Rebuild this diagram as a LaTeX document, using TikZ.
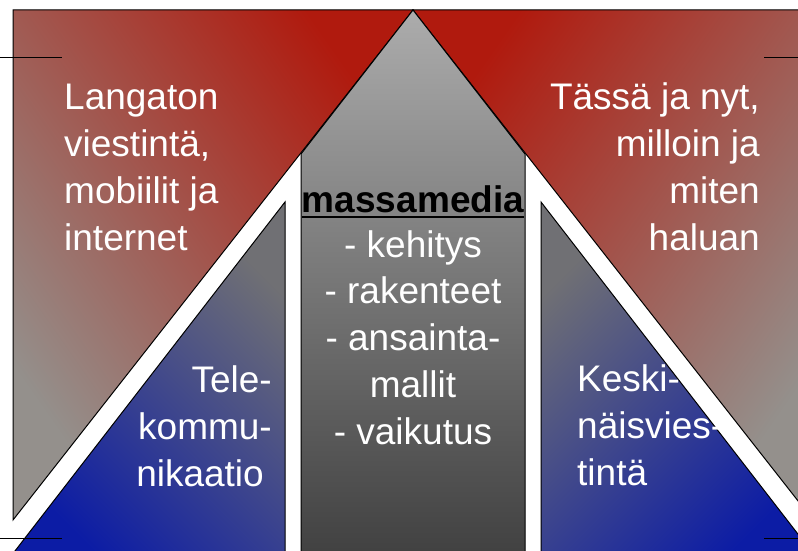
\documentclass[tikz,border=0pt]{standalone}
\usepackage{fontspec}
\setmainfont{Liberation Sans}
\usetikzlibrary{positioning}
\newcommand*{\bigtxt}{\fontsize{37}{46.7}\selectfont}
\newcommand*{\ulword}[1]{\setbox0\hbox{#1}\rlap{\rule[-5.8pt]{\wd0}{1.8pt}}\box0}
\definecolor{apexred}{RGB}{176,26,14}
\definecolor{mauvegray}{RGB}{148,144,140}
\definecolor{deepblue}{RGB}{12,28,165}
\definecolor{slategray}{RGB}{112,112,116}
\definecolor{lightgray}{RGB}{172,172,172}
\definecolor{midgray}{RGB}{126,126,126}
\definecolor{darkgray}{RGB}{64,64,64}

\begin{document}
\begin{tikzpicture}[x=1pt,y=-1pt,
  part/.style={draw=black,line width=1pt},
  redpart/.style={part,top color=apexred,bottom color=mauvegray},
  bluepart/.style={part,top color=slategray,bottom color=deepblue},
  txt/.style={text=white,font=\bigtxt,inner sep=0pt}]
\useasboundingbox (0,0) rectangle (798,551);
\clip (0,0) rectangle (798,551);
% Apex and corners of the red triangles
\coordinate (apex) at (413,10);
\coordinate (tl) at (13,10);
\coordinate (bl) at (13,520);
\coordinate (tr) at (813,10);
\coordinate (br) at (813,520);
% Corners of the middle part
\coordinate (ml) at (301,154);
\coordinate (mr) at (525,154);
\coordinate (mlb) at (301,560);
\coordinate (mrb) at (525,560);
% Corners of the blue triangles
\coordinate (lt) at (285,202);
\coordinate (lb) at (285,560);
\coordinate (lbb) at (8,560);
\coordinate (rt) at (541,202);
\coordinate (rb) at (541,560);
\coordinate (rbb) at (818,560);
% Red triangles
\draw[redpart,shading angle=-55] (tl) -- (apex) -- (bl) -- cycle;
\draw[redpart,shading angle=55] (apex) -- (tr) -- (br) -- cycle;
% Middle part
\draw[part,top color=lightgray,middle color=midgray,bottom color=darkgray]
  (apex) -- (ml) -- (mlb) -- (mrb) -- (mr) -- cycle;
% Blue triangles
\draw[bluepart,shading angle=-45] (lt) -- (lb) -- (lbb) -- cycle;
\draw[bluepart,shading angle=45] (rt) -- (rbb) -- (rb) -- cycle;
% Marks at the edges
\draw[line width=1pt] (0,58) -- (62,58);
\draw[line width=1pt] (0,538) -- (62,538);
\draw[line width=1pt] (764,58) -- (798,58);
\draw[line width=1pt] (764,538) -- (798,538);
% Texts (base is the baseline of the last line)
\node[txt,anchor=base west,align=left] (wireless) at (64,250)
  {Langaton\\viestintä,\\mobiilit ja\\internet};
\node[txt,anchor=base east,align=right] (herenow) at (760,250)
  {Tässä ja nyt,\\milloin ja\\miten\\haluan};
\node[txt,text=black,font=\bigtxt\bfseries,anchor=base] (mass) at (413,212)
  {\ulword{massamedia}};
\node[txt,anchor=base,align=center] (topics) at (413,444)
  {- kehitys\\- rakenteet\\- ansainta-\\mallit\\- vaikutus};
\node[txt,anchor=base east,align=right] (tele) at (272,486)
  {Tele-\\kommu-\\nikaatio\hspace*{8pt}};
\node[txt,anchor=base west,align=left] (interp) at (577,485)
  {Keski-\\näisvies-\\tintä};
\end{tikzpicture}
\end{document}
